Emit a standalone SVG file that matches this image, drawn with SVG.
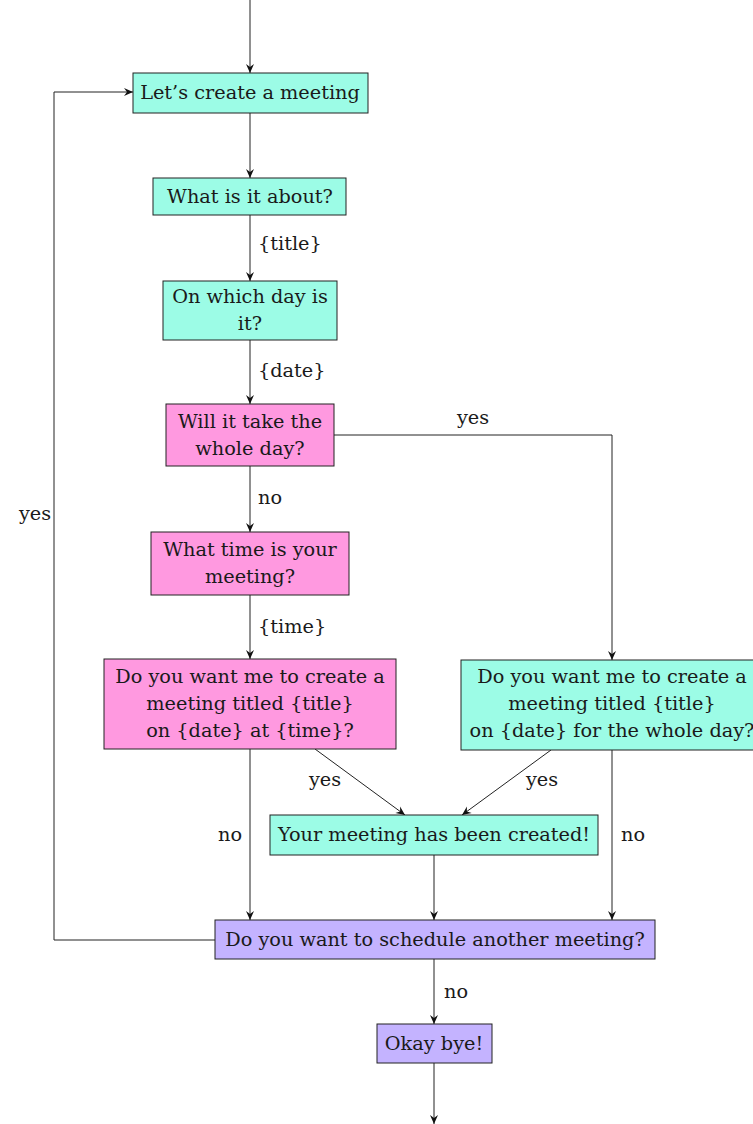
<svg xmlns="http://www.w3.org/2000/svg" width="753" height="1124" viewBox="0 0 753 1124">
<style>
.n rect{stroke:#222;stroke-width:1}
.c{fill:#9cfce6}.m{fill:#ff99e0}.p{fill:#c4b3ff}
text{font-family:"DejaVu Serif",serif;font-size:19.3px;fill:#1a1a1a}
.t{text-anchor:middle}
#edges path{fill:none;stroke:#222;stroke-width:1}
</style>
<defs>
<marker id="a" viewBox="-10 -5 12 10" refX="0" refY="0" markerWidth="12" markerHeight="10" markerUnits="userSpaceOnUse" orient="auto">
<path d="M0,0 L-9,-4 L-6,0 L-9,4 Z" fill="#111"/>
</marker>
</defs>
<g id="edges">
<path d="M250,0 V73" marker-end="url(#a)"/>
<path d="M250,113 V178" marker-end="url(#a)"/>
<path d="M250,215 V281" marker-end="url(#a)"/>
<path d="M250,340 V404" marker-end="url(#a)"/>
<path d="M250,466 V532" marker-end="url(#a)"/>
<path d="M334,435 H612 V660" marker-end="url(#a)"/>
<path d="M250,595 V659" marker-end="url(#a)"/>
<path d="M250,749 V920" marker-end="url(#a)"/>
<path d="M315,749 L405,815" marker-end="url(#a)"/>
<path d="M551,750 L462,815" marker-end="url(#a)"/>
<path d="M612,750 V920" marker-end="url(#a)"/>
<path d="M434,855 V920" marker-end="url(#a)"/>
<path d="M215,940 H54 V92 H133" marker-end="url(#a)"/>
<path d="M434,959 V1024" marker-end="url(#a)"/>
<path d="M434,1063 V1124" marker-end="url(#a)"/>
</g>
<g id="edge-labels">
<text x="258" y="250">{title}</text>
<text x="258" y="377">{date}</text>
<text class="t" x="473" y="424">yes</text>
<text x="258" y="504">no</text>
<text x="258" y="633">{time}</text>
<text class="t" x="325" y="786">yes</text>
<text class="t" x="542" y="786">yes</text>
<text class="t" x="230" y="841">no</text>
<text class="t" x="633" y="841">no</text>
<text class="t" x="35" y="520">yes</text>
<text x="444" y="998">no</text>
</g>
<g id="n1" class="n"><rect class="c" x="133" y="73" width="235" height="40"/><text class="t" x="250" y="99">Let’s create a meeting</text></g>
<g id="n2" class="n"><rect class="c" x="153" y="178" width="193" height="37"/><text class="t" x="250" y="203">What is it about?</text></g>
<g id="n3" class="n"><rect class="c" x="163" y="281" width="174" height="59"/><text class="t" x="250" y="303">On which day is</text><text class="t" x="250" y="330">it?</text></g>
<g id="n4" class="n"><rect class="m" x="166" y="404" width="168" height="62"/><text class="t" x="250" y="428">Will it take the</text><text class="t" x="250" y="455">whole day?</text></g>
<g id="n5" class="n"><rect class="m" x="151" y="532" width="198" height="63"/><text class="t" x="250" y="556">What time is your</text><text class="t" x="250" y="583">meeting?</text></g>
<g id="n6" class="n"><rect class="m" x="104" y="659" width="292" height="90"/><text class="t" x="250" y="683">Do you want me to create a</text><text class="t" x="250" y="710">meeting titled {title}</text><text class="t" x="250" y="737">on {date} at {time}?</text></g>
<g id="n7" class="n"><rect class="c" x="461" y="660" width="302" height="90"/><text class="t" x="612" y="683">Do you want me to create a</text><text class="t" x="612" y="710">meeting titled {title}</text><text class="t" x="612" y="737">on {date} for the whole day?</text></g>
<g id="n8" class="n"><rect class="c" x="270" y="815" width="328" height="40"/><text class="t" x="434" y="841">Your meeting has been created!</text></g>
<g id="n9" class="n"><rect class="p" x="215" y="920" width="440" height="39"/><text class="t" x="435" y="946">Do you want to schedule another meeting?</text></g>
<g id="n10" class="n"><rect class="p" x="377" y="1024" width="115" height="39"/><text class="t" x="434" y="1050">Okay bye!</text></g>
</svg>
